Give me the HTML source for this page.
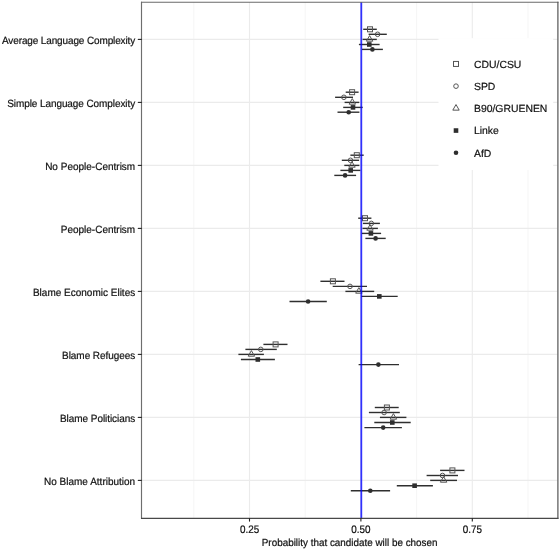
<!DOCTYPE html>
<html><head><meta charset="utf-8"><style>
html,body{margin:0;padding:0;background:#fff;width:560px;height:550px;overflow:hidden}
svg{display:block;filter:blur(0.3px)}
text{font-family:"Liberation Sans",sans-serif;fill:#111;stroke:#111;stroke-width:0.2px;text-rendering:geometricPrecision}
.ax{font-size:10px}
.lg{font-size:10.4px}
.tk{font-size:10.2px}
</style></head><body>
<svg width="560" height="550" viewBox="0 0 560 550">
<rect width="560" height="550" fill="#fff"/>
<line x1="193.80" y1="2.0" x2="193.80" y2="518.2" stroke="#f2f2f2" stroke-width="0.8"/>
<line x1="305.20" y1="2.0" x2="305.20" y2="518.2" stroke="#f2f2f2" stroke-width="0.8"/>
<line x1="416.60" y1="2.0" x2="416.60" y2="518.2" stroke="#f2f2f2" stroke-width="0.8"/>
<line x1="528.00" y1="2.0" x2="528.00" y2="518.2" stroke="#f2f2f2" stroke-width="0.8"/>
<line x1="249.50" y1="2.0" x2="249.50" y2="518.2" stroke="#ebebeb" stroke-width="1.1"/>
<line x1="360.90" y1="2.0" x2="360.90" y2="518.2" stroke="#ebebeb" stroke-width="1.1"/>
<line x1="472.30" y1="2.0" x2="472.30" y2="518.2" stroke="#ebebeb" stroke-width="1.1"/>
<line x1="141.8" y1="39.4" x2="557.5" y2="39.4" stroke="#ebebeb" stroke-width="1.1"/>
<line x1="141.8" y1="102.4" x2="557.5" y2="102.4" stroke="#ebebeb" stroke-width="1.1"/>
<line x1="141.8" y1="165.4" x2="557.5" y2="165.4" stroke="#ebebeb" stroke-width="1.1"/>
<line x1="141.8" y1="228.4" x2="557.5" y2="228.4" stroke="#ebebeb" stroke-width="1.1"/>
<line x1="141.8" y1="291.4" x2="557.5" y2="291.4" stroke="#ebebeb" stroke-width="1.1"/>
<line x1="141.8" y1="354.4" x2="557.5" y2="354.4" stroke="#ebebeb" stroke-width="1.1"/>
<line x1="141.8" y1="417.4" x2="557.5" y2="417.4" stroke="#ebebeb" stroke-width="1.1"/>
<line x1="141.8" y1="480.4" x2="557.5" y2="480.4" stroke="#ebebeb" stroke-width="1.1"/>
<line x1="363.2" y1="29.3" x2="376.8" y2="29.3" stroke="#2f2f2f" stroke-width="1.4"/>
<line x1="368.6" y1="34.3" x2="386.8" y2="34.3" stroke="#2f2f2f" stroke-width="1.4"/>
<line x1="362.6" y1="39.4" x2="376.8" y2="39.4" stroke="#2f2f2f" stroke-width="1.4"/>
<line x1="358.9" y1="44.5" x2="379.6" y2="44.5" stroke="#2f2f2f" stroke-width="1.4"/>
<line x1="362.0" y1="49.4" x2="382.9" y2="49.4" stroke="#2f2f2f" stroke-width="1.4"/>
<rect x="367.50" y="26.80" width="5.0" height="5.0" fill="none" stroke="#555" stroke-width="1"/>
<circle cx="377.60" cy="34.30" r="2.3" fill="none" stroke="#555" stroke-width="1"/>
<path d="M369.60,35.60 L372.80,41.20 L366.40,41.20 Z" fill="none" stroke="#555" stroke-width="1"/>
<rect x="367.00" y="42.20" width="4.6" height="4.6" fill="#2e2e2e"/>
<circle cx="372.40" cy="49.40" r="2.3" fill="#2e2e2e"/>
<line x1="345.7" y1="92.2" x2="358.6" y2="92.2" stroke="#2f2f2f" stroke-width="1.4"/>
<line x1="335.1" y1="97.3" x2="353.0" y2="97.3" stroke="#2f2f2f" stroke-width="1.4"/>
<line x1="344.6" y1="102.4" x2="359.3" y2="102.4" stroke="#2f2f2f" stroke-width="1.4"/>
<line x1="343.2" y1="107.4" x2="362.7" y2="107.4" stroke="#2f2f2f" stroke-width="1.4"/>
<line x1="337.5" y1="112.2" x2="359.4" y2="112.2" stroke="#2f2f2f" stroke-width="1.4"/>
<rect x="349.60" y="89.70" width="5.0" height="5.0" fill="none" stroke="#555" stroke-width="1"/>
<circle cx="343.90" cy="97.30" r="2.3" fill="none" stroke="#555" stroke-width="1"/>
<path d="M352.30,98.60 L355.50,104.20 L349.10,104.20 Z" fill="none" stroke="#555" stroke-width="1"/>
<rect x="350.70" y="105.10" width="4.6" height="4.6" fill="#2e2e2e"/>
<circle cx="348.70" cy="112.20" r="2.3" fill="#2e2e2e"/>
<line x1="350.4" y1="155.2" x2="363.7" y2="155.2" stroke="#2f2f2f" stroke-width="1.4"/>
<line x1="341.8" y1="160.3" x2="359.1" y2="160.3" stroke="#2f2f2f" stroke-width="1.4"/>
<line x1="344.3" y1="165.4" x2="359.4" y2="165.4" stroke="#2f2f2f" stroke-width="1.4"/>
<line x1="340.4" y1="170.4" x2="360.4" y2="170.4" stroke="#2f2f2f" stroke-width="1.4"/>
<line x1="334.3" y1="175.4" x2="356.1" y2="175.4" stroke="#2f2f2f" stroke-width="1.4"/>
<rect x="354.30" y="152.70" width="5.0" height="5.0" fill="none" stroke="#555" stroke-width="1"/>
<circle cx="350.50" cy="160.30" r="2.3" fill="none" stroke="#555" stroke-width="1"/>
<path d="M352.00,161.60 L355.20,167.20 L348.80,167.20 Z" fill="none" stroke="#555" stroke-width="1"/>
<rect x="348.40" y="168.10" width="4.6" height="4.6" fill="#2e2e2e"/>
<circle cx="345.10" cy="175.40" r="2.3" fill="#2e2e2e"/>
<line x1="358.2" y1="218.2" x2="371.4" y2="218.2" stroke="#2f2f2f" stroke-width="1.4"/>
<line x1="362.9" y1="223.4" x2="379.9" y2="223.4" stroke="#2f2f2f" stroke-width="1.4"/>
<line x1="362.5" y1="228.4" x2="377.9" y2="228.4" stroke="#2f2f2f" stroke-width="1.4"/>
<line x1="361.8" y1="233.4" x2="381.1" y2="233.4" stroke="#2f2f2f" stroke-width="1.4"/>
<line x1="365.4" y1="238.4" x2="385.7" y2="238.4" stroke="#2f2f2f" stroke-width="1.4"/>
<rect x="362.50" y="215.70" width="5.0" height="5.0" fill="none" stroke="#555" stroke-width="1"/>
<circle cx="371.30" cy="223.40" r="2.3" fill="none" stroke="#555" stroke-width="1"/>
<path d="M370.00,224.60 L373.20,230.20 L366.80,230.20 Z" fill="none" stroke="#555" stroke-width="1"/>
<rect x="368.60" y="231.10" width="4.6" height="4.6" fill="#2e2e2e"/>
<circle cx="375.60" cy="238.40" r="2.3" fill="#2e2e2e"/>
<line x1="320.4" y1="281.3" x2="344.5" y2="281.3" stroke="#2f2f2f" stroke-width="1.4"/>
<line x1="332.7" y1="286.4" x2="367.0" y2="286.4" stroke="#2f2f2f" stroke-width="1.4"/>
<line x1="345.4" y1="291.4" x2="374.2" y2="291.4" stroke="#2f2f2f" stroke-width="1.4"/>
<line x1="361.4" y1="296.4" x2="397.7" y2="296.4" stroke="#2f2f2f" stroke-width="1.4"/>
<line x1="289.5" y1="301.5" x2="326.8" y2="301.5" stroke="#2f2f2f" stroke-width="1.4"/>
<rect x="330.40" y="278.80" width="5.0" height="5.0" fill="none" stroke="#555" stroke-width="1"/>
<circle cx="350.00" cy="286.40" r="2.3" fill="none" stroke="#555" stroke-width="1"/>
<path d="M358.90,287.60 L362.10,293.20 L355.70,293.20 Z" fill="none" stroke="#555" stroke-width="1"/>
<rect x="377.00" y="294.10" width="4.6" height="4.6" fill="#2e2e2e"/>
<circle cx="308.10" cy="301.50" r="2.3" fill="#2e2e2e"/>
<line x1="263.4" y1="344.4" x2="287.5" y2="344.4" stroke="#2f2f2f" stroke-width="1.4"/>
<line x1="245.4" y1="349.4" x2="276.8" y2="349.4" stroke="#2f2f2f" stroke-width="1.4"/>
<line x1="238.4" y1="354.4" x2="263.9" y2="354.4" stroke="#2f2f2f" stroke-width="1.4"/>
<line x1="240.9" y1="359.5" x2="274.9" y2="359.5" stroke="#2f2f2f" stroke-width="1.4"/>
<line x1="358.6" y1="364.6" x2="399.0" y2="364.6" stroke="#2f2f2f" stroke-width="1.4"/>
<rect x="273.10" y="341.90" width="5.0" height="5.0" fill="none" stroke="#555" stroke-width="1"/>
<circle cx="260.80" cy="349.40" r="2.3" fill="none" stroke="#555" stroke-width="1"/>
<path d="M251.40,350.60 L254.60,356.20 L248.20,356.20 Z" fill="none" stroke="#555" stroke-width="1"/>
<rect x="255.50" y="357.20" width="4.6" height="4.6" fill="#2e2e2e"/>
<circle cx="378.40" cy="364.60" r="2.3" fill="#2e2e2e"/>
<line x1="374.8" y1="407.5" x2="398.7" y2="407.5" stroke="#2f2f2f" stroke-width="1.4"/>
<line x1="368.9" y1="412.5" x2="399.8" y2="412.5" stroke="#2f2f2f" stroke-width="1.4"/>
<line x1="379.9" y1="417.4" x2="406.4" y2="417.4" stroke="#2f2f2f" stroke-width="1.4"/>
<line x1="374.3" y1="422.5" x2="410.7" y2="422.5" stroke="#2f2f2f" stroke-width="1.4"/>
<line x1="364.4" y1="427.6" x2="401.9" y2="427.6" stroke="#2f2f2f" stroke-width="1.4"/>
<rect x="384.40" y="405.00" width="5.0" height="5.0" fill="none" stroke="#555" stroke-width="1"/>
<circle cx="384.10" cy="412.50" r="2.3" fill="none" stroke="#555" stroke-width="1"/>
<path d="M393.40,413.60 L396.60,419.20 L390.20,419.20 Z" fill="none" stroke="#555" stroke-width="1"/>
<rect x="390.00" y="420.20" width="4.6" height="4.6" fill="#2e2e2e"/>
<circle cx="383.20" cy="427.60" r="2.3" fill="#2e2e2e"/>
<line x1="440.1" y1="470.4" x2="464.5" y2="470.4" stroke="#2f2f2f" stroke-width="1.4"/>
<line x1="426.6" y1="475.5" x2="458.0" y2="475.5" stroke="#2f2f2f" stroke-width="1.4"/>
<line x1="430.2" y1="480.4" x2="457.0" y2="480.4" stroke="#2f2f2f" stroke-width="1.4"/>
<line x1="396.8" y1="485.7" x2="432.9" y2="485.7" stroke="#2f2f2f" stroke-width="1.4"/>
<line x1="350.8" y1="490.7" x2="390.1" y2="490.7" stroke="#2f2f2f" stroke-width="1.4"/>
<rect x="449.90" y="467.90" width="5.0" height="5.0" fill="none" stroke="#555" stroke-width="1"/>
<circle cx="442.50" cy="475.50" r="2.3" fill="none" stroke="#555" stroke-width="1"/>
<path d="M443.60,476.60 L446.80,482.20 L440.40,482.20 Z" fill="none" stroke="#555" stroke-width="1"/>
<rect x="412.30" y="483.40" width="4.6" height="4.6" fill="#2e2e2e"/>
<circle cx="370.30" cy="490.70" r="2.3" fill="#2e2e2e"/>
<line x1="361.3" y1="2.0" x2="361.3" y2="518.2" stroke="#0000ff" stroke-opacity="0.8" stroke-width="1.8"/>
<rect x="438.5" y="38.2" width="114.70000000000005" height="131.8" fill="#fff"/>
<rect x="453.50" y="61.45" width="5.0" height="5.0" fill="none" stroke="#555" stroke-width="1"/>
<text x="474.0" y="67.85" class="lg">CDU/CSU</text>
<circle cx="456.00" cy="86.15" r="2.3" fill="none" stroke="#555" stroke-width="1"/>
<text x="474.0" y="90.05" class="lg">SPD</text>
<path d="M456.00,104.55 L459.20,110.15 L452.80,110.15 Z" fill="none" stroke="#555" stroke-width="1"/>
<text x="474.0" y="112.25" class="lg">B90/GRUENEN</text>
<rect x="453.70" y="128.25" width="4.6" height="4.6" fill="#2e2e2e"/>
<text x="474.0" y="134.45" class="lg">Linke</text>
<circle cx="456.00" cy="152.75" r="2.3" fill="#2e2e2e"/>
<text x="474.0" y="156.65" class="lg">AfD</text>
<line x1="141.5" y1="1.7" x2="141.5" y2="518.8" stroke="#6e6e6e" stroke-width="1.15"/>
<line x1="141" y1="2.25" x2="558.5" y2="2.25" stroke="#6a6a6a" stroke-width="1.2"/>
<line x1="557.9" y1="1.7" x2="557.9" y2="518.8" stroke="#555" stroke-width="1.2"/>
<line x1="141" y1="518.4" x2="558.5" y2="518.4" stroke="#484848" stroke-width="1.1"/>
<line x1="137.8" y1="39.4" x2="141.8" y2="39.4" stroke="#222" stroke-width="1.1"/>
<text transform="translate(135.2,43.50) scale(1,1.045)" class="ax" text-anchor="end" textLength="133.2" lengthAdjust="spacing">Average Language Complexity</text>
<line x1="137.8" y1="102.4" x2="141.8" y2="102.4" stroke="#222" stroke-width="1.1"/>
<text transform="translate(135.2,106.50) scale(1,1.045)" class="ax" text-anchor="end" textLength="128.0" lengthAdjust="spacing">Simple Language Complexity</text>
<line x1="137.8" y1="165.4" x2="141.8" y2="165.4" stroke="#222" stroke-width="1.1"/>
<text transform="translate(135.2,169.50) scale(1,1.045)" class="ax" text-anchor="end">No People-Centrism</text>
<line x1="137.8" y1="228.4" x2="141.8" y2="228.4" stroke="#222" stroke-width="1.1"/>
<text transform="translate(135.2,232.50) scale(1,1.045)" class="ax" text-anchor="end">People-Centrism</text>
<line x1="137.8" y1="291.4" x2="141.8" y2="291.4" stroke="#222" stroke-width="1.1"/>
<text transform="translate(135.2,295.50) scale(1,1.045)" class="ax" text-anchor="end">Blame Economic Elites</text>
<line x1="137.8" y1="354.4" x2="141.8" y2="354.4" stroke="#222" stroke-width="1.1"/>
<text transform="translate(135.2,358.50) scale(1,1.045)" class="ax" text-anchor="end" textLength="73.1" lengthAdjust="spacing">Blame Refugees</text>
<line x1="137.8" y1="417.4" x2="141.8" y2="417.4" stroke="#222" stroke-width="1.1"/>
<text transform="translate(135.2,421.50) scale(1,1.045)" class="ax" text-anchor="end" textLength="75.2" lengthAdjust="spacing">Blame Politicians</text>
<line x1="137.8" y1="480.4" x2="141.8" y2="480.4" stroke="#222" stroke-width="1.1"/>
<text transform="translate(135.2,484.50) scale(1,1.045)" class="ax" text-anchor="end">No Blame Attribution</text>
<line x1="249.50" y1="518.2" x2="249.50" y2="521.60" stroke="#222" stroke-width="1.1"/>
<text transform="translate(249.50,532.7) scale(0.97,1.07)" class="tk" text-anchor="middle">0.25</text>
<line x1="360.90" y1="518.2" x2="360.90" y2="521.60" stroke="#222" stroke-width="1.1"/>
<text transform="translate(360.90,532.7) scale(0.97,1.07)" class="tk" text-anchor="middle">0.50</text>
<line x1="472.30" y1="518.2" x2="472.30" y2="521.60" stroke="#222" stroke-width="1.1"/>
<text transform="translate(472.30,532.7) scale(0.97,1.07)" class="tk" text-anchor="middle">0.75</text>
<text transform="translate(349.65,546.2) scale(0.988,1.03)" class="ax" text-anchor="middle">Probability that candidate will be chosen</text>
</svg>
</body></html>
